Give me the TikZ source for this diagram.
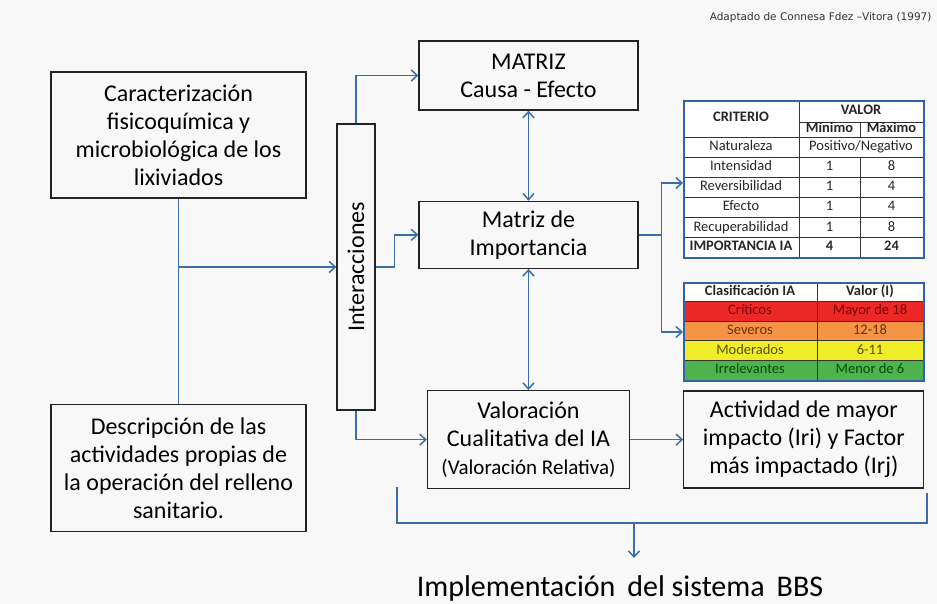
\documentclass[tikz,border=0pt]{standalone}
\usepackage{graphicx}
\usepackage{fontspec}
\setmainfont{Carlito}
\newfontfamily\creditfont{DejaVu Sans}
\usetikzlibrary{positioning,arrows.meta}

\definecolor{flowblue}{RGB}{58,110,168}
\definecolor{tabblue}{RGB}{48,98,168}
\definecolor{paper}{RGB}{248,248,248}
\definecolor{boxline}{RGB}{35,35,35}
\definecolor{critfill}{RGB}{236,40,38}
\definecolor{critink}{RGB}{125,0,0}
\definecolor{sevfill}{RGB}{246,148,70}
\definecolor{sevink}{RGB}{110,48,0}
\definecolor{modfill}{RGB}{240,236,40}
\definecolor{modink}{RGB}{85,85,0}
\definecolor{irrfill}{RGB}{78,178,78}
\definecolor{irrink}{RGB}{0,78,0}

\tikzset{
  box/.style={draw=boxline, line width=1.3pt, align=center, inner sep=0pt,
    font=\fontsize{24}{28}\selectfont},
  flow/.style={draw=flowblue, line width=1.5pt},
  arr/.style={flow, -{Straight Barb[length=6pt,width=11pt]}},
  dbl/.style={flow, {Straight Barb[length=6pt,width=11pt]}-{Straight Barb[length=6pt,width=11pt]}},
  cell/.style={inner sep=0pt, text height=10pt, text depth=3pt,
    font=\fontsize{14.5}{16}\selectfont, text=black!85},
  hcell/.style={cell, font=\fontsize{14.5}{16}\selectfont\bfseries},
  tabrule/.style={draw=black!80, line width=0.8pt},
  tabframe/.style={draw=tabblue, line width=2.2pt, inner sep=0pt, anchor=north west},
}

\begin{document}
\begin{tikzpicture}[x=1pt,y=-1pt]
    \fill[paper] (0,0) rectangle (937,604);
    \useasboundingbox (0,0) rectangle (937,604);

    \node[box, minimum width=255pt, minimum height=126pt] (cara) at (178.5,135)
        {Caracterización\\fisicoquímica y\\microbiológica de los\\lixiviados};
    \node[box, minimum width=255pt, minimum height=127pt, below=205pt of cara] (desc)
        {Descripción de las\\actividades propias de\\la operación del relleno\\sanitario.};
    \node[box, minimum width=38pt, minimum height=286pt] (inter) at (356,267)
        {\rotatebox{90}{Interacciones}};

    \node[box, minimum width=219pt, minimum height=69pt] (matriz) at (528.5,75.5)
        {MATRIZ\\Causa - Efecto};
    \node[box, minimum width=219pt, minimum height=67pt, below=90pt of matriz] (imp)
        {Matriz de\\Importancia};
    \node[box, minimum width=202pt, minimum height=98pt, below=121pt of imp] (valor)
        {Valoración\\Cualitativa del IA\\{\fontsize{21}{26}\selectfont(Valoración Relativa)}};
    \node[box, minimum width=240pt, minimum height=97pt, right=53pt of valor] (activ)
        {Actividad de mayor\\impacto (Iri) y Factor\\más impactado (Irj)};

    \fill[white] (683,100) rectangle (923,257);
    \draw[tabrule] (799,122) -- (923,122);
    \foreach \y in {137,157,177.2,197.4,217.6,237.8}
        \draw[tabrule] (683,\y) -- (923,\y);
    \draw[tabrule] (799,100) -- (799,257);
    \draw[tabrule] (860,122) -- (860,137) (860,157) -- (860,257);
    \node[hcell] (criterio) at (741,118.5) {CRITERIO};
    \node[hcell] (valorh) at (861,111) {VALOR};
    \node[hcell] (minimo) at (829.5,129.5) {Mínimo};
    \node[hcell] (maximo) at (891.5,129.5) {Máximo};
    \node[cell] (natur) at (741,147) {Naturaleza};
    \node[cell] (posneg) at (861,147) {Positivo/Negativo};
    \foreach \nm/\lo/\hi [count=\i] in {Intensidad/1/8,Reversibilidad/1/4,Efecto/1/4,Recuperabilidad/1/8}{
        \node[cell] (crit\i) at (741,{146.9+20.2*\i}) {\nm};
        \node[cell] (min\i) at (829.5,{146.9+20.2*\i}) {\lo};
        \node[cell] (max\i) at (891.5,{146.9+20.2*\i}) {\hi};
    }
    \node[hcell] (imptot) at (741,247.4) {IMPORTANCIA IA};
    \node[hcell] (mintot) at (829.5,247.4) {4};
    \node[hcell] (maxtot) at (891.5,247.4) {24};
    \node[tabframe, minimum width=240pt, minimum height=157pt] (criterios) at (683,100) {};

    \fill[white] (683,282) rectangle (923,301.6);
    \foreach \fc/\ink/\cl/\vl [count=\i] in {critfill/critink/Críticos/Mayor de 18,sevfill/sevink/Severos/12-18,modfill/modink/Moderados/6-11,irrfill/irrink/Irrelevantes/Menor de 6}{
        \fill[\fc] (683,{282+19.6*\i}) rectangle (923,{301.6+19.6*\i});
        \node[cell, text=\ink] (cls\i) at (750,{291.8+19.6*\i}) {\cl};
        \node[cell, text=\ink] (val\i) at (870,{291.8+19.6*\i}) {\vl};
    }
    \foreach \y in {301.6,321.2,340.8,360.4}
        \draw[tabrule] (683,\y) -- (923,\y);
    \draw[tabrule] (817,282) -- (817,380);
    \node[hcell] (clash) at (750,291.8) {Clasificación IA};
    \node[hcell] (valh) at (870,291.8) {Valor (I)};
    \node[tabframe, minimum width=240pt, minimum height=98pt] (clasif) at (683,282) {};

    \coordinate (junta) at (cara.south |- inter.west);
    \draw[flow] (cara.south) -- (desc.north);
    \draw[arr] (junta) -- (inter.west);
    \draw[arr] (inter.north) |- (matriz.west);
    \draw[arr] (inter.east) -- ++(19,0) |- (imp.west);
    \draw[arr] (inter.south) |- (valor.west);
    \draw[dbl] (matriz.south) -- (imp.north);
    \draw[dbl] (imp.south) -- (valor.north);
    \draw[arr] (valor.east) -- (activ.west);

    \coordinate[right=23pt of imp.east] (reparto);
    \coordinate (critin) at (683,183);
    \coordinate (clasin) at (683,332);
    \draw[flow] (imp.east) -- (reparto);
    \draw[arr] (reparto) |- (critin);
    \draw[arr] (reparto) |- (clasin);

    \coordinate (llaveL) at (397,487);
    \coordinate (llaveLb) at (397,523);
    \coordinate (llaveRb) at (927,523);
    \coordinate (llaveR) at (927,493);
    \coordinate (llaveM) at (634,523);
    \coordinate (flecha) at (634,558);
    \draw[flow] (llaveL) -- (llaveLb) -- (llaveRb) -- (llaveR);
    \draw[arr] (llaveM) -- (flecha);

    \node[font=\fontsize{30}{34}\selectfont] (bbs) at (620,588) {Implementación\hspace{0.4em}del sistema\hspace{0.4em}BBS};
    \node[font=\creditfont\fontsize{10.5}{12}\selectfont, anchor=east, text=black!80] (fuente) at (935,18)
        {Adaptado de Connesa Fdez –Vitora (1997)};
\end{tikzpicture}
\end{document}
